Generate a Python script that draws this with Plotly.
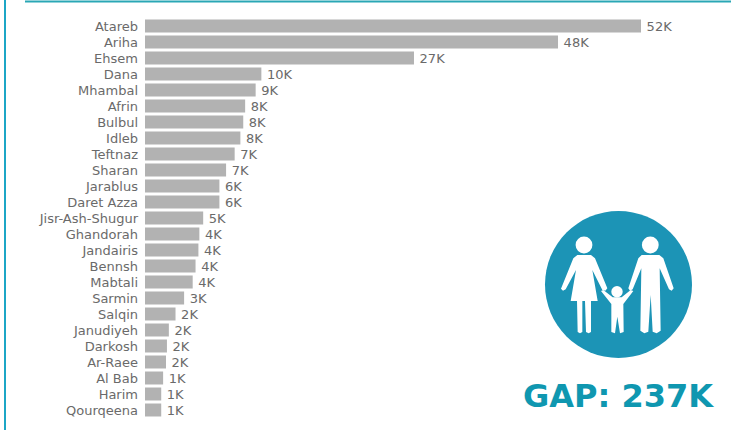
import plotly.graph_objects as go

W, H = 731, 430

districts = ["Atareb", "Ariha", "Ehsem", "Dana", "Mhambal", "Afrin", "Bulbul", "Idleb", "Teftnaz",
             "Sharan", "Jarablus", "Daret Azza", "Jisr-Ash-Shugur", "Ghandorah", "Jandairis", "Bennsh",
             "Mabtali", "Sarmin", "Salqin", "Janudiyeh", "Darkosh", "Ar-Raee", "Al Bab", "Harim", "Qourqeena"]
# bar lengths as drawn, in thousands on the reference's visual scale
bar_values = [52.0, 43.3, 28.2, 12.2, 11.6, 10.5, 10.3, 10.0, 9.4,
              8.5, 7.8, 7.8, 6.1, 5.7, 5.6, 5.3,
              5.0, 4.1, 3.2, 2.5, 2.3, 2.2, 1.9, 1.7, 1.7]
value_labels = ["52K", "48K", "27K", "10K", "9K", "8K", "8K", "8K", "7K",
                "7K", "6K", "6K", "5K", "4K", "4K", "4K",
                "4K", "3K", "2K", "2K", "2K", "2K", "1K", "1K", "1K"]
headline = "GAP: 237K"

TEAL = "#1c94b6"
GREY = "#b2b2b2"
TEXT = "#6a6a6a"
FONT = "DejaVu Sans"

def px(x):
    return x / W

def py(y):
    return 1 - y / H

def icon_path(points):
    return "M" + " L".join(f"{px(500 + a / 3):.5f},{py(190 + b / 3):.5f}" for a, b in points) + " Z"

woman = [(232,195),(273,195),(285,205),(322,295),(316,302),(307,300),(277,240),(293,333),(273,333),(273,426),(266,430),(258,426),
         (255,333),(247,333),(247,426),(240,430),(233,426),(231,333),(212,333),(228,240),(197,298),(189,302),(183,296),(220,205)]
man = [(425,195),(478,195),(490,205),(521,295),(515,302),(507,298),(479,235),(482,422),(470,430),(458,425),(452,315),
       (445,425),(433,430),(421,422),(424,235),(398,298),(390,302),(385,295),(415,205)]
child = [(303,303),(310,300),(338,322),(365,322),(392,300),(400,303),(370,342),(371,426),(360,430),(352,380),(345,430),(334,426),(334,342)]

fig = go.Figure(go.Bar(
    x=bar_values, y=districts, orientation="h",
    marker=dict(color=GREY, line=dict(width=0)),
    text=["\u2009" + v for v in value_labels], textposition="outside", cliponaxis=False,
    constraintext="none",
    textfont=dict(family=FONT, size=13, color=TEXT),
    width=0.8125, hoverinfo="skip",
))

def circle(cx, cy, r, color):
    return dict(type="circle", xref="paper", yref="paper", x0=px(cx - r), x1=px(cx + r),
                y0=py(cy + r), y1=py(cy - r), fillcolor=color, line=dict(width=0), layer="above")

def poly(points):
    return dict(type="path", xref="paper", yref="paper", path=icon_path(points),
                fillcolor="white", line=dict(width=0), layer="above")

shapes = [
    dict(type="line", xref="paper", yref="paper", x0=px(25), x1=1, y0=py(1.5), y1=py(1.5),
         line=dict(color="#2aa7b5", width=2)),
    dict(type="line", xref="paper", yref="paper", x0=px(5), x1=px(5), y0=0, y1=1,
         line=dict(color="#1ca6c6", width=2)),
    circle(618.5, 284.5, 73.5, TEAL),
    circle(584, 245, 8.4, "white"), circle(650.3, 245, 8.4, "white"), circle(617, 291.7, 5.7, "white"),
    poly(woman), poly(man), poly(child),
]

fig.update_layout(
    width=W, height=H, margin=dict(l=0, r=0, t=0, b=0, pad=0, autoexpand=False),
    paper_bgcolor="white", plot_bgcolor="white", showlegend=False, shapes=shapes,
    font=dict(family=FONT, size=13, color=TEXT),
    xaxis=dict(domain=[px(145), 1], range=[0, (W - 145) / (496 / 52)], visible=False),
    yaxis=dict(domain=[py(418), py(18)], autorange=False, range=[len(districts) - 0.5, -0.5],
               type="category", categoryorder="array", categoryarray=districts,
               showline=False, showgrid=False, ticks="", ticklabelstandoff=6,
               tickfont=dict(family=FONT, size=13, color=TEXT)),
    annotations=[dict(text=f"<b>{headline}</b>", xref="paper", yref="paper", x=px(618), y=py(396),
                      xanchor="center", yanchor="middle", showarrow=False,
                      font=dict(family=FONT, size=32, color="#0f97b0"))],
)

fig.write_html("out.html", config=dict(displayModeBar=False),
               post_script="document.body.style.margin='0';document.body.style.overflow='hidden';")
